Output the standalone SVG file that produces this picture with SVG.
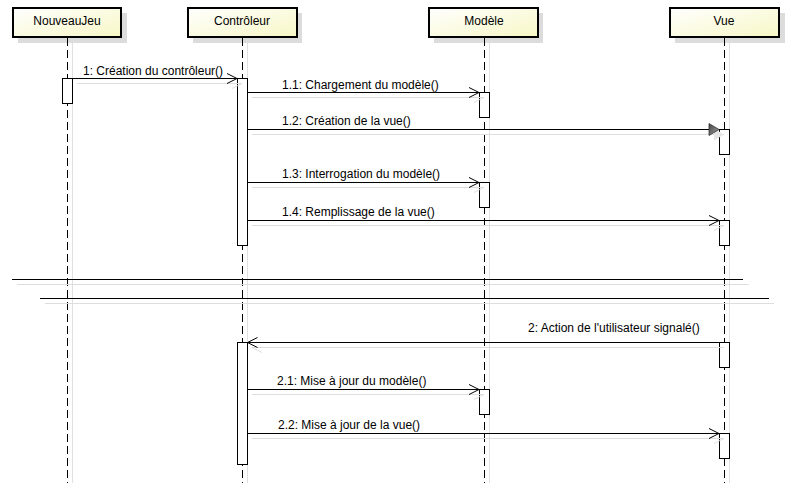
<svg xmlns="http://www.w3.org/2000/svg" width="791" height="483" viewBox="0 0 791 483">
<defs>
<linearGradient id="hdr" x1="0" y1="0" x2="1" y2="1">
<stop offset="0" stop-color="#ffffff"/>
<stop offset="1" stop-color="#f7f7c6"/>
</linearGradient>
<linearGradient id="tri" x1="0" y1="0" x2="1" y2="1">
<stop offset="0" stop-color="#444444"/>
<stop offset="1" stop-color="#a0a0a0"/>
</linearGradient>
</defs>
<style>
text{font-family:"Liberation Sans",Arial,sans-serif;font-size:12px;fill:#000}
.hdr{fill:url(#hdr);stroke:#000;stroke-width:2}
.shd{fill:#dcdcdc}
.life{stroke:#000;stroke-width:1;stroke-dasharray:8,4}
.lsh{stroke:#e0e0e0;stroke-width:1}
.act{fill:#fff;stroke:#000;stroke-width:1}
.msg{stroke:#000;stroke-width:1;fill:none}
.msh{stroke:#dedede;stroke-width:1;fill:none}
.ctr{text-anchor:middle}
</style>
<rect width="791" height="483" fill="#fff"/>

<g id="NouveauJeu">
<rect class="shd" x="18" y="13" width="109" height="30"/>
<rect class="hdr" x="13" y="8" width="108" height="29"/>
<text class="ctr" x="67" y="24.5">NouveauJeu</text>
<line class="lsh" x1="72.5" y1="43" x2="72.5" y2="483"/>
<line class="life" x1="67.5" y1="38" x2="67.5" y2="483"/>
<rect class="act" x="62.5" y="78.5" width="10" height="25"/>
</g>

<g id="Controleur">
<rect class="shd" x="193" y="13" width="109" height="30"/>
<rect class="hdr" x="188" y="8" width="109" height="29"/>
<text class="ctr" x="242" y="24.5">Contrôleur</text>
<line class="lsh" x1="247.5" y1="43" x2="247.5" y2="483"/>
<line class="life" x1="242.5" y1="38" x2="242.5" y2="483"/>
<rect class="act" x="237.5" y="78.5" width="10" height="167"/>
<rect class="act" x="237.5" y="342.5" width="10" height="122"/>
</g>

<g id="Modele">
<rect class="shd" x="434" y="13" width="109" height="30"/>
<rect class="hdr" x="429" y="8" width="109" height="29"/>
<text class="ctr" x="484" y="24.5">Modèle</text>
<line class="lsh" x1="489.5" y1="43" x2="489.5" y2="483"/>
<line class="life" x1="484.5" y1="38" x2="484.5" y2="483"/>
<rect class="act" x="479.5" y="92.5" width="10" height="25"/>
<rect class="act" x="479.5" y="182.5" width="10" height="25"/>
<rect class="act" x="479.5" y="389.5" width="10" height="25"/>
</g>

<g id="Vue">
<rect class="shd" x="675" y="13" width="110" height="30"/>
<rect class="hdr" x="670" y="8" width="109" height="29"/>
<text class="ctr" x="724" y="24.5">Vue</text>
<line class="lsh" x1="729.5" y1="43" x2="729.5" y2="483"/>
<line class="life" x1="724.5" y1="38" x2="724.5" y2="483"/>
<rect class="act" x="719.5" y="129.5" width="10" height="25"/>
<rect class="act" x="719.5" y="220.5" width="10" height="25"/>
<rect class="act" x="719.5" y="342.5" width="10" height="25"/>
<rect class="act" x="719.5" y="433.5" width="10" height="25"/>
</g>

<g id="separators">
<line class="msh" x1="17" y1="284.5" x2="749" y2="284.5"/>
<line class="msg" x1="12" y1="279.5" x2="743" y2="279.5"/>
<line class="msh" x1="45" y1="303.5" x2="774" y2="303.5"/>
<line class="msg" x1="40" y1="298.5" x2="769" y2="298.5"/>
</g>

<g id="connectors">
<!-- 1 -->
<path class="msh" d="M77 83.5H242 M232 88.5l10 -5"/>
<path class="msg" d="M72.5 78.5H237 M227 73.5l10 5l-10 5"/>
<text x="83" y="74.5">1: Création du contrôleur()</text>
<!-- 1.1 -->
<path class="msh" d="M252 97.5H484 M474 102.5l10 -5"/>
<path class="msg" d="M247.5 92.5H479 M469 87.5l10 5l-10 5"/>
<text x="282" y="88.5">1.1: Chargement du modèle()</text>
<!-- 1.2 -->
<path class="msh" d="M252 134.5H724"/>
<path d="M714 128.5l10 6l-10 6z" fill="#e6e6e6"/>
<path class="msg" d="M247.5 129.5H710"/>
<path d="M709 123.5l10 6l-10 6z" fill="url(#tri)" stroke="#333" stroke-width="0.8"/>
<text x="282" y="124.5">1.2: Création de la vue()</text>
<!-- 1.3 -->
<path class="msh" d="M252 187.5H484 M474 192.5l10 -5"/>
<path class="msg" d="M247.5 182.5H479 M469 177.5l10 5l-10 5"/>
<text x="282" y="177.5">1.3: Interrogation du modèle()</text>
<!-- 1.4 -->
<path class="msh" d="M252 225.5H724 M714 230.5l10 -5"/>
<path class="msg" d="M247.5 220.5H719 M709 215.5l10 5l-10 5"/>
<text x="282" y="215.5">1.4: Remplissage de la vue()</text>
<!-- 2 -->
<path class="msh" d="M252 347.5H724 M252 347.5l10 5"/>
<path class="msg" d="M719.5 342.5H247.5 M257.5 337.5l-10 5l10 5"/>
<text x="528" y="331.5">2: Action de l'utilisateur signalé()</text>
<!-- 2.1 -->
<path class="msh" d="M252 394.5H484 M474 399.5l10 -5"/>
<path class="msg" d="M247.5 389.5H479 M469 384.5l10 5l-10 5"/>
<text x="277" y="384.5">2.1: Mise à jour du modèle()</text>
<!-- 2.2 -->
<path class="msh" d="M252 438.5H724 M714 443.5l10 -5"/>
<path class="msg" d="M247.5 433.5H719 M709 428.5l10 5l-10 5"/>
<text x="278" y="428.5">2.2: Mise à jour de la vue()</text>
</g>
</svg>
